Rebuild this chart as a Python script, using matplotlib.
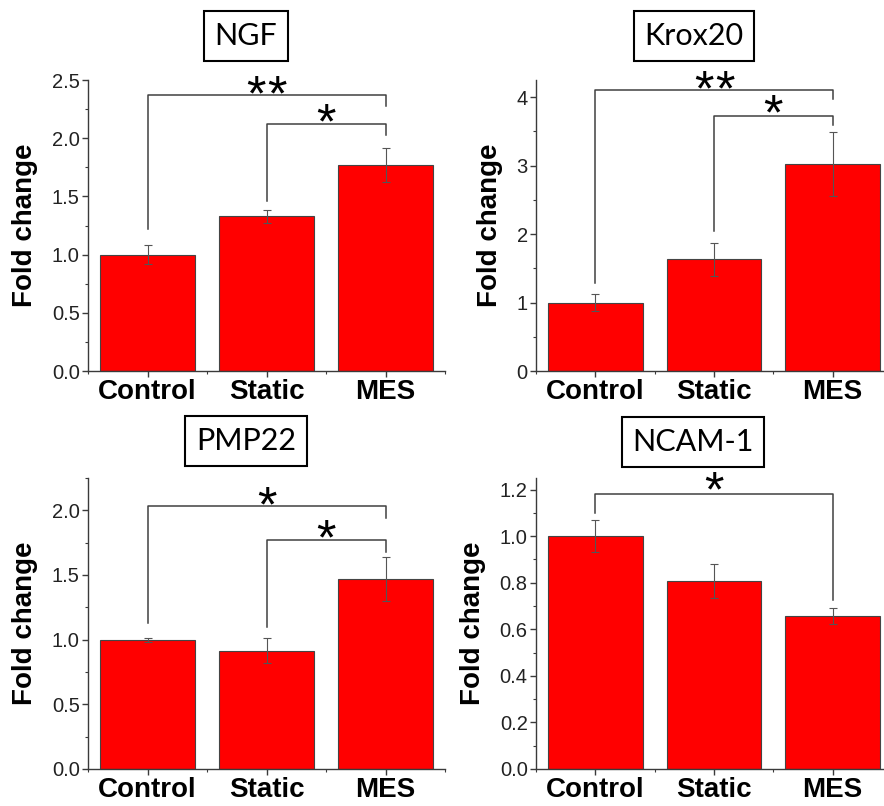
import matplotlib
matplotlib.use('Agg')
import matplotlib.pyplot as plt
from matplotlib.ticker import MultipleLocator

plt.rcParams['font.family'] = ['Liberation Sans', 'DejaVu Sans']

groups = ['Control', 'Static', 'MES']

# values
ngf_mean = [1.00, 1.33, 1.77]
ngf_err = [0.08, 0.055, 0.15]
krox_mean = [1.00, 1.63, 3.02]
krox_err = [0.125, 0.24, 0.47]
pmp_mean = [1.00, 0.915, 1.47]
pmp_err = [0.015, 0.095, 0.17]
ncam_mean = [1.00, 0.808, 0.657]
ncam_err = [0.068, 0.072, 0.036]

titles = ['NGF', 'Krox20', 'PMP22', 'NCAM-1']
ylims = [2.5, 4.25, 2.25, 1.25]
ymajor = [0.5, 1, 0.5, 0.2]
yfmt = ['%.1f', '%d', '%.1f', '%.1f']

# brackets: (left group, right group, height, left leg end, right leg end, stars, star y)
ngf_sig = [(0, 2, 2.37, 1.22, 2.28, '**', 2.44), (1, 2, 2.12, 1.46, 2.03, '*', 2.2)]
krox_sig = [(0, 2, 4.11, 1.29, 3.97, '**', 4.23), (1, 2, 3.73, 2.05, 3.60, '*', 3.87)]
pmp_sig = [(0, 2, 2.03, 1.13, 1.94, '*', 2.095), (1, 2, 1.77, 1.10, 1.68, '*', 1.84)]
ncam_sig = [(0, 2, 1.181, 1.10, 0.724, '*', 1.229)]

means = [ngf_mean, krox_mean, pmp_mean, ncam_mean]
errs = [ngf_err, krox_err, pmp_err, ncam_err]
sigs = [ngf_sig, krox_sig, pmp_sig, ncam_sig]

W, H = 884, 806
fig = plt.figure(figsize=(W / 100, H / 100), dpi=100)

# axes boxes in pixels: left, bottom (from top), top (from top), width
boxes = [(88, 371, 80, 357), (536, 371, 80, 356),
         (88, 769, 478, 357), (536, 769, 478, 356)]
title_pos = [(246, 36), (694, 36), (246, 441), (693, 442)]

axcol = '#3a3a3a'
x = range(len(groups))

for i in range(4):
    l, b, t, w = boxes[i]
    ax = fig.add_axes([l / W, 1 - b / H, w / W, (b - t) / H])
    ax.bar(x, means[i], width=0.8, color='#ff0000', edgecolor='#444444',
           linewidth=0.8, zorder=2)
    ax.errorbar(x, means[i], yerr=errs[i], fmt='none', ecolor='#555555',
                elinewidth=0.8, capsize=3, capthick=0.8, zorder=3)
    ax.set_xlim(-0.5, 2.5)
    ax.set_ylim(0, ylims[i])
    ax.spines['top'].set_visible(False)
    ax.spines['right'].set_visible(False)
    for s in ['left', 'bottom']:
        ax.spines[s].set_color(axcol)
        ax.spines[s].set_linewidth(1)
    ax.set_xticks(list(x))
    ax.set_xticklabels(groups, fontsize=20, fontweight='bold')
    ax.xaxis.set_minor_locator(MultipleLocator(0.5))
    ax.yaxis.set_major_locator(MultipleLocator(ymajor[i]))
    ax.yaxis.set_minor_locator(MultipleLocator(ymajor[i] / 2))
    ax.yaxis.set_major_formatter(matplotlib.ticker.FormatStrFormatter(yfmt[i]))
    ax.tick_params(axis='both', which='major', direction='out', length=4,
                   width=1, color=axcol, pad=2)
    ax.tick_params(axis='both', which='minor', direction='out', length=2.5,
                   width=0.8, color=axcol)
    ax.tick_params(axis='y', labelsize=14.5, labelcolor='#222222')
    ax.set_ylabel('Fold change', fontsize=20, fontweight='bold', labelpad=10)

    for g1, g2, hy, e1, e2, st, sy in sigs[i]:
        ax.plot([g1, g1, g2, g2], [e1, hy, hy, e2], color='#404040', lw=1.1,
                clip_on=False, zorder=4)
        # one asterisk at a time so "**" gets a small gap like the original
        n = len(st)
        for k in range(n):
            dx = (k - (n - 1) / 2) * 15
            ax.annotate('*', xy=((g1 + g2) / 2, sy), xytext=(dx, -17),
                        textcoords='offset points', ha='center', va='baseline',
                        fontsize=36, annotation_clip=False)

    tx, ty = title_pos[i]
    fig.text(tx / W, 1 - ty / H, titles[i], ha='center', va='center',
             fontsize=22, family='Lato',
             bbox=dict(boxstyle='square,pad=0.35', fc='white', ec='black', lw=1.5))

fig.savefig('out.png', dpi=100)
